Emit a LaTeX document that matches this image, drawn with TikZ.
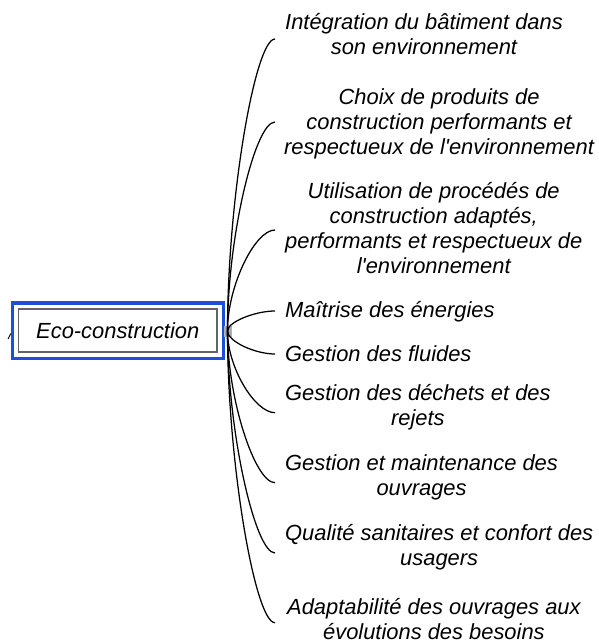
\documentclass[tikz,border=0pt]{standalone}
\usepackage{fontspec}
\setmainfont{Liberation Sans}
\usetikzlibrary{calc,fit}
\definecolor{selblue}{RGB}{30,80,215}
\definecolor{boxgray}{RGB}{100,100,100}
\definecolor{handlegray}{RGB}{165,170,180}
\begin{document}
\begin{tikzpicture}[x=1pt,y=-1pt,
  lbl/.style={anchor=west,inner sep=0pt,align=center,font=\fontsize{21.9}{25}\selectfont\itshape},
  rootbox/.style={draw=boxgray,line width=1.2pt,minimum width=198.5pt,minimum height=43pt,inner sep=0pt,font=\fontsize{21.9}{25}\selectfont\itshape},
  selbox/.style={draw=selblue,line width=3.2pt,inner sep=5.5pt},
  handle/.style={draw=gray!60,fill=handlegray,line width=0.6pt,minimum width=7pt,minimum height=10pt,inner sep=0pt},
  conn/.style={line width=1.25pt,black}]
\useasboundingbox (0,0) rectangle (598,644);
\node[rootbox] (root) at (117.75,330.5) {Eco-construction};
\node[selbox,fit=(root)] (sel) {};
\node[handle] (h) at (227.5,331) {};
\coordinate (stub) at (8,339);
\draw[conn,line width=0.9pt] (stub) -- ([yshift=-3pt]sel.west);
\node[lbl] (l1) at (285,34.5) {Intégration du bâtiment dans\\son environnement};
\node[lbl] (l2) at (284,123.5) {Choix de produits de\\construction performants et\\respectueux de l\textquotesingle environnement};
\node[lbl] (l3) at (285,228) {Utilisation de procédés de\\construction adaptés,\\performants et respectueux de\\l\textquotesingle environnement};
\node[lbl] (l4) at (285,312) {Maîtrise des énergies};
\node[lbl] (l5) at (285,354) {Gestion des fluides};
\node[lbl] (l6) at (285,407) {Gestion des déchets et des\\rejets};
\node[lbl] (l7) at (285,477.5) {Gestion et maintenance des\\ouvrages};
\node[lbl] (l8) at (285,547.5) {Qualité sanitaires et confort des\\usagers};
\node[lbl] (l9) at (287,619) {Adaptabilité des ouvrages aux\\évolutions des besoins};
\foreach \i/\d/\x in {1/4.5/-10,2/-1.5/-9,3/2/-10,4/-1/-10,5/0/-10,6/5.7/-10,7/5.2/-10,8/5.5/-10,9/3.7/-12}{
  \coordinate (e\i) at ($(l\i.west)+(\x,\d)$);
  \draw[conn] (h.center) .. controls ($(h.center)!0.45!(h.center|-e\i)$) and ($(e\i)+(-20,0)$) .. (e\i);
}
\end{tikzpicture}
\end{document}
